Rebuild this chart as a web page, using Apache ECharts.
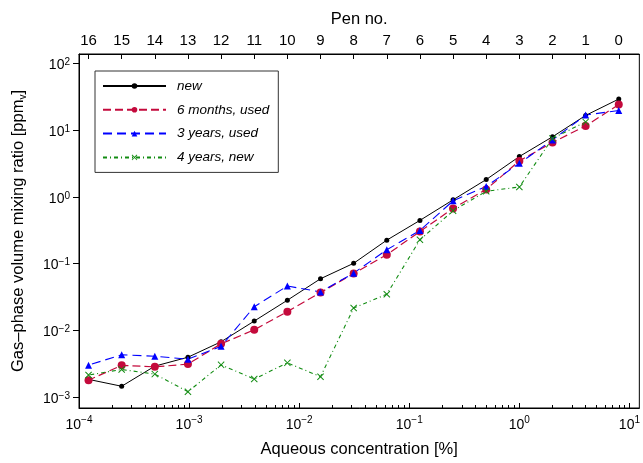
<!DOCTYPE html>
<html>
<head>
<meta charset="utf-8">
<script src="https://cdn.jsdelivr.net/npm/echarts@6/dist/echarts.min.js"></script>
<style>
html,body{margin:0;padding:0;background:#fff}
#main{width:643px;height:463px}
</style>
</head>
<body>
<div id="main"></div>
<script>
// aqueous concentration [%] of each pen, pen 0 .. pen 16
var conc = [8, 4, 2, 1, 0.5, 0.25, 0.125, 0.0625, 0.03125, 0.015625, 0.0078125,
            0.00390625, 0.001953125, 0.0009765625, 0.00048828125, 0.000244140625, 0.0001220703125];
var pens = [0, 1, 2, 3, 4, 5, 6, 7, 8, 9, 10, 11, 12, 13, 14, 15, 16];

// gas-phase mixing ratio [ppm_v], same order as conc
var newPen     = [29, 16.5, 7.9, 4.0, 1.81, 0.90, 0.443, 0.2245, 0.101, 0.0593, 0.0283,
                  0.0138, 0.00676, 0.00397, 0.00292, 0.00146, 0.00185];
var sixMonths  = [24, 11.5, 6.5, 3.44, 1.29, 0.669, 0.302, 0.136, 0.0711, 0.0368, 0.0191,
                  0.0102, 0.0063, 0.00313, 0.00285, 0.0030, 0.0018];
var threeYears = [19.6, 16.7, 7.1, 3.17, 1.43, 0.869, 0.313, 0.161, 0.072, 0.0377, 0.0462,
                  0.0226, 0.00577, 0.00371, 0.0041, 0.00433, 0.00302];
var fourYears  = [null, 13.2, 7.46, 1.4, 1.21, 0.618, 0.227, 0.0348, 0.0216, 0.00203, 0.00327,
                  0.00187, 0.00305, 0.00121, 0.00222, 0.0026, 0.00215];

var xMajor = [1e-4, 1e-3, 1e-2, 1e-1, 1, 10];
var yMajor = [1e-3, 1e-2, 1e-1, 1, 10, 100];
var xMinor = [];
for (var d = 0; d < 5; d++) {
    for (var k = 2; k <= 9; k++) xMinor.push(k * xMajor[d]);
}

var XMIN = 1e-4, XMAX = 12.3, YMIN = 6.9e-4, YMAX = 137;
var FONT = '"Liberation Sans", Arial, Helvetica, sans-serif';

function pairs(vals) {
    var out = [];
    for (var i = 0; i < conc.length; i++) {
        if (vals[i] != null) out.push([conc[i], vals[i]]);
    }
    return out;
}
function pow10(v) {
    var e = Math.round(Math.log10(v));
    return '{b|10}{s|' + (e < 0 ? '\u2212' + (-e) : e) + '}';
}
var xRich = {
    b: {fontSize: 14, lineHeight: 20, color: '#000', fontFamily: FONT},
    s: {fontSize: 10, lineHeight: 10, verticalAlign: 'top', color: '#000', fontFamily: FONT}
};
var yRich = {
    b: {fontSize: 14, lineHeight: 20, padding: [4, 0, 0, 0], color: '#000', fontFamily: FONT},
    s: {fontSize: 10, lineHeight: 10, padding: [4, 0, 0, 0], verticalAlign: 'top', color: '#000', fontFamily: FONT}
};
var black = {color: '#000', width: 1};
var nameStyle = {fontSize: 16.5, color: '#000', fontFamily: FONT};

var myChart = echarts.init(document.getElementById('main'));
var option = {
    animation: false,
    backgroundColor: '#fff',
    textStyle: {fontFamily: FONT},
    grid: {left: 79, right: 1.5, top: 54, bottom: 51, show: true, borderColor: '#000', borderWidth: 1},
    legend: {
        orient: 'vertical',
        left: 95,
        top: 71,
        padding: [7, 9, 7, 7],
        itemWidth: 63,
        itemHeight: 7,
        itemGap: 7.8,
        borderColor: '#333',
        borderWidth: 1,
        backgroundColor: '#fff',
        textStyle: {fontSize: 13.5, fontStyle: 'italic', color: '#000', fontFamily: FONT, lineHeight: 16, padding: [0, 0, 0, 6]},
        data: ['new', '6 months, used', '3 years, used', '4 years, new']
    },
    xAxis: [
        {   // bottom: concentration
            type: 'log', position: 'bottom', min: XMIN, max: XMAX,
            name: 'Aqueous concentration [%]', nameLocation: 'middle', nameGap: 33,
            nameTextStyle: nameStyle,
            axisLine: {lineStyle: black},
            axisTick: {inside: true, length: 5, customValues: xMajor, lineStyle: black},
            axisLabel: {customValues: xMajor, margin: 7, formatter: pow10, rich: xRich},
            splitLine: {show: false}
        },
        {   // top: pen number
            type: 'log', position: 'top', min: XMIN, max: XMAX,
            name: 'Pen no.', nameLocation: 'middle', nameGap: 21,
            nameTextStyle: nameStyle,
            axisLine: {lineStyle: black},
            axisTick: {inside: true, length: 5, customValues: conc, lineStyle: black},
            axisLabel: {
                customValues: conc, margin: 6, fontSize: 15, color: '#000', fontFamily: FONT,
                formatter: function (v) {
                    for (var i = 0; i < conc.length; i++) {
                        if (Math.abs(conc[i] - v) / conc[i] < 1e-6) return String(pens[i]);
                    }
                    return '';
                }
            },
            splitLine: {show: false}
        },
        {   // minor ticks of the bottom axis
            type: 'log', position: 'bottom', min: XMIN, max: XMAX,
            axisLine: {show: false},
            axisTick: {inside: true, length: 3, customValues: xMinor, lineStyle: black},
            axisLabel: {show: false},
            splitLine: {show: false}
        }
    ],
    yAxis: {
        type: 'log', min: YMIN, max: YMAX,
        name: '{a|Gas\u2013phase volume mixing ratio [ppm}{v|v}{a|]}',
        nameLocation: 'middle', nameGap: 51,
        nameTextStyle: {
            fontSize: 16.5, color: '#000', fontFamily: FONT,
            rich: {
                a: {fontSize: 16.5, lineHeight: 20, color: '#000', fontFamily: FONT},
                v: {fontSize: 10, lineHeight: 14, verticalAlign: 'bottom', color: '#000', fontFamily: FONT}
            }
        },
        axisLine: {lineStyle: black},
        axisTick: {inside: false, length: 6, customValues: yMajor, lineStyle: black},
        axisLabel: {customValues: yMajor, margin: 9, formatter: pow10, rich: yRich},
        splitLine: {show: false}
    },
    series: [
        {
            name: 'new', type: 'line', xAxisIndex: 0,
            data: pairs(newPen),
            symbol: 'circle', symbolSize: 5,
            itemStyle: {color: '#000'},
            lineStyle: {color: '#000', width: 1}
        },
        {
            name: '6 months, used', type: 'line', xAxisIndex: 0,
            data: pairs(sixMonths),
            symbol: 'circle', symbolSize: 8,
            itemStyle: {color: '#c40a3c'},
            lineStyle: {color: '#c40a3c', width: 1.2, type: [8, 4]}
        },
        {
            name: '3 years, used', type: 'line', xAxisIndex: 0,
            data: pairs(threeYears),
            symbol: 'triangle', symbolSize: 7,
            itemStyle: {color: '#0000ff'},
            lineStyle: {color: '#0000ff', width: 1.1, type: [9, 5]}
        },
        {
            name: '4 years, new', type: 'line', xAxisIndex: 0,
            data: pairs(fourYears),
            symbol: 'path://M0,1L1,0L5,4L9,0L10,1L6,5L10,9L9,10L5,6L1,10L0,9L4,5Z', symbolSize: 7,
            itemStyle: {color: '#128c12'},
            lineStyle: {color: '#128c12', width: 1.1, type: [4, 3, 1, 3]}
        }
    ]
};
myChart.setOption(option);
</script>
</body>
</html>
